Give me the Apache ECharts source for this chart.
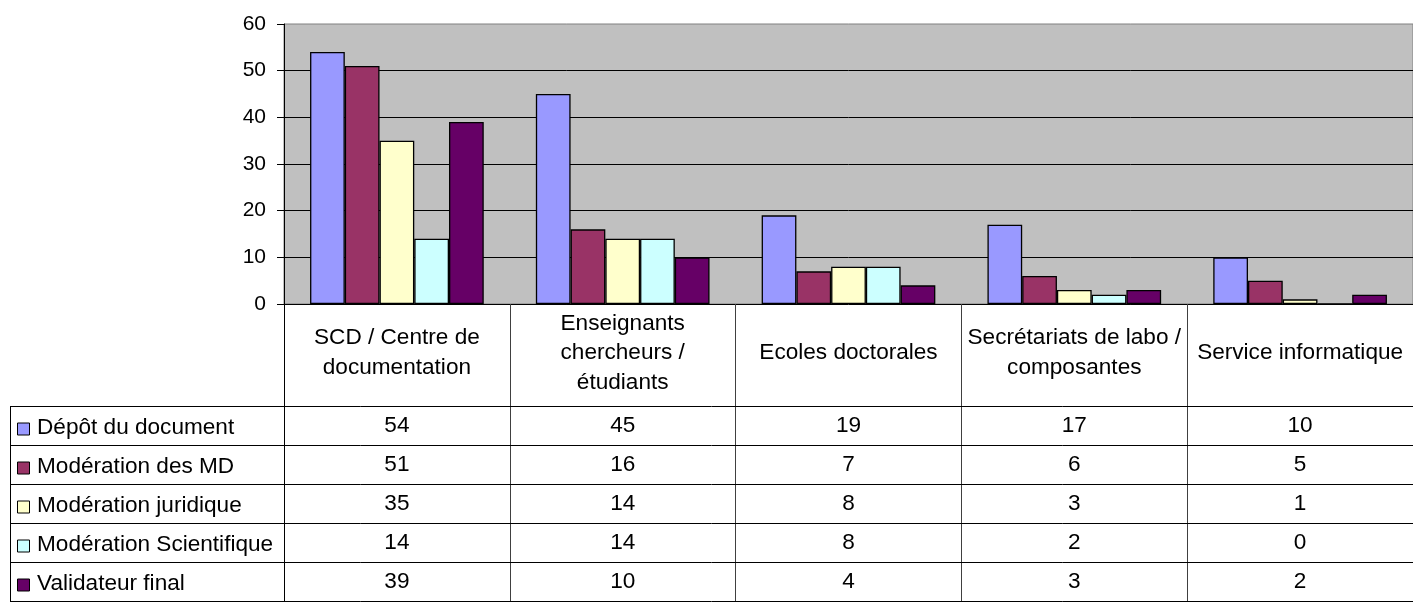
<!DOCTYPE html>
<html>
<head>
<meta charset="utf-8">
<script src="https://cdn.jsdelivr.net/npm/echarts@6/dist/echarts.min.js"></script>
<style>
  html, body { margin: 0; padding: 0; background: #fff; }
  #chart { width: 1413px; height: 611px; }
</style>
</head>
<body>
<div id="chart"></div>
<script>
// Catégories (colonnes, avec leurs retours à la ligne) et séries (lignes du tableau de données)
const categories = [
  'SCD / Centre de\ndocumentation',
  'Enseignants\nchercheurs /\nétudiants',
  'Ecoles doctorales',
  'Secrétariats de labo /\ncomposantes',
  'Service informatique'
];
const seriesNames = [
  'Dépôt du document',
  'Modération des MD',
  'Modération juridique',
  'Modération Scientifique',
  'Validateur final'
];
const depotDocument = [54, 45, 19, 17, 10];
const moderationMD = [51, 16, 7, 6, 5];
const moderationJuridique = [35, 14, 8, 3, 1];
const moderationScientifique = [14, 14, 8, 2, 0];
const validateurFinal = [39, 10, 4, 3, 2];
const seriesColors = ['#9999FF', '#993366', '#FFFFCC', '#CCFFFF', '#660066'];

const seriesValues = [depotDocument, moderationMD, moderationJuridique, moderationScientifique, validateurFinal];

const FONT = '"Liberation Sans", Arial, sans-serif';
const TABLE_FONT_SIZE = 22.6;
const chart = echarts.init(document.getElementById('chart'), null, { renderer: 'canvas' });

const option = {
  animation: false,
  backgroundColor: '#ffffff',
  textStyle: { fontFamily: FONT, color: '#000' },
  grid: {
    left: 284, top: 24, right: 0, bottom: 307,
    show: true, backgroundColor: '#C0C0C0', borderColor: '#808080', borderWidth: 1
  },
  xAxis: {
    type: 'category',
    data: categories,
    boundaryGap: true,
    axisLine: { show: true, lineStyle: { color: '#000', width: 1 } },
    axisTick: { show: true, interval: 0, length: 297, lineStyle: { color: '#404040', width: 1 } },
    axisLabel: {
      interval: 0,
      margin: 49,
      verticalAlign: 'middle',
      align: 'center',
      fontSize: TABLE_FONT_SIZE,
      lineHeight: 29.5,
      color: '#000',
      fontFamily: FONT
    },
    splitLine: { show: false }
  },
  yAxis: {
    type: 'value',
    min: 0, max: 60, interval: 10,
    axisLine: { show: true, lineStyle: { color: '#000', width: 1 } },
    axisTick: { show: true, length: 7, lineStyle: { color: '#000' } },
    axisLabel: { margin: 18, fontSize: 21, color: '#000', fontFamily: FONT },
    splitLine: { show: true, showMinLine: false, showMaxLine: false, lineStyle: { color: '#000', width: 1 } }
  },
  series: seriesNames.map((name, i) => ({
    name: name,
    type: 'bar',
    data: seriesValues[i],
    barGap: '0%',
    barCategoryGap: '23.08%',
    itemStyle: { color: seriesColors[i], borderColor: '#000', borderWidth: 1.3 }
  }))
};
chart.setOption(option);

// Tableau de données sous le graphique, aligné sur les colonnes de l'axe des catégories
function buildTable() {
  const tableLeft = 10;
  const tableRight = 1413;
  const tableTop = 406;
  const rowHeight = 39;
  const axisY = Math.round(chart.convertToPixel({ yAxisIndex: 0 }, 0));
  const step = chart.convertToPixel({ xAxisIndex: 0 }, 1) - chart.convertToPixel({ xAxisIndex: 0 }, 0);
  const axisX = Math.round(chart.convertToPixel({ xAxisIndex: 0 }, 0) - step / 2);
  const tableBottom = tableTop + rowHeight * seriesNames.length;
  const font = TABLE_FONT_SIZE + 'px ' + FONT;
  const els = [];

  // lignes horizontales
  for (let r = 0; r <= seriesNames.length; r++) {
    const y = tableTop + r * rowHeight + 0.5;
    els.push({ type: 'line', silent: true, z: 10,
      shape: { x1: tableLeft, y1: y, x2: tableRight, y2: y },
      style: { stroke: '#000', lineWidth: 1 } });
  }
  // bord gauche et prolongement de l'axe vertical
  els.push({ type: 'line', silent: true, z: 10,
    shape: { x1: tableLeft + 0.5, y1: tableTop, x2: tableLeft + 0.5, y2: tableBottom + 1 },
    style: { stroke: '#000', lineWidth: 1 } });
  els.push({ type: 'line', silent: true, z: 10,
    shape: { x1: axisX + 0.5, y1: axisY, x2: axisX + 0.5, y2: tableBottom + 1 },
    style: { stroke: '#000', lineWidth: 1 } });

  seriesNames.forEach((name, r) => {
    const cy = tableTop + r * rowHeight + rowHeight / 2 + 0.5;
    // clé de légende
    els.push({ type: 'rect', silent: true, z: 10,
      shape: { x: 17.5, y: cy - 3, width: 12, height: 12 },
      style: { fill: seriesColors[r], stroke: '#000', lineWidth: 1 } });
    els.push({ type: 'text', silent: true, z: 10,
      style: { x: 37, y: cy + 1.5, text: name, fill: '#000',
        font: font, fontSize: TABLE_FONT_SIZE, fontFamily: FONT,
        align: 'left', textAlign: 'left', verticalAlign: 'middle', textVerticalAlign: 'middle' } });
    seriesValues[r].forEach((v, c) => {
      const cx = chart.convertToPixel({ xAxisIndex: 0 }, c);
      els.push({ type: 'text', silent: true, z: 10,
        style: { x: cx, y: cy, text: String(v), fill: '#000',
          font: font, fontSize: TABLE_FONT_SIZE, fontFamily: FONT,
          align: 'center', textAlign: 'center', verticalAlign: 'middle', textVerticalAlign: 'middle' } });
    });
  });
  chart.setOption({ graphic: { elements: els } });
}
buildTable();
</script>
</body>
</html>
